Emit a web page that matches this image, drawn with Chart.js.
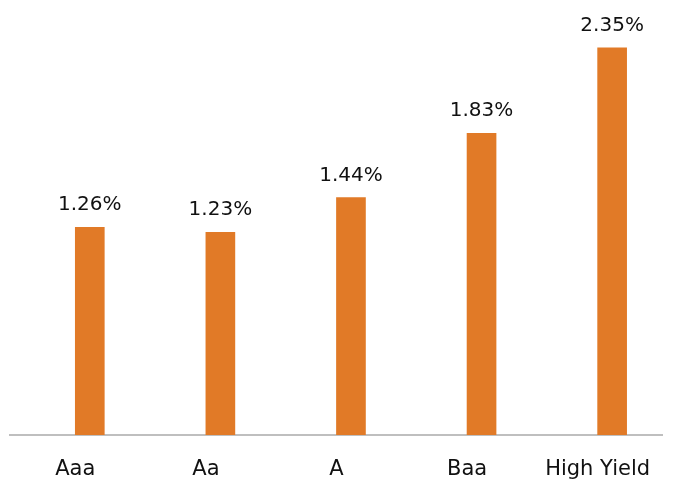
<!DOCTYPE html>
<html>
<head>
<meta charset="utf-8">
<script src="https://cdn.jsdelivr.net/npm/chart.js@4/dist/chart.umd.min.js"></script>
<style>
  html, body { margin: 0; padding: 0; background: #fff; }
  #wrap { width: 673px; height: 482px; }
</style>
</head>
<body>
<div id="wrap"><canvas id="chart"></canvas></div>
<script>
const ratings = ['Aaa', 'Aa', 'A', 'Baa', 'High Yield'];
const spreads = [1.26, 1.23, 1.44, 1.83, 2.35];

// prints the % value above each bar
const valueLabels = {
  id: 'valueLabels',
  afterDatasetsDraw(chart) {
    const ctx = chart.ctx;
    const meta = chart.getDatasetMeta(1);
    ctx.save();
    ctx.font = '20px "DejaVu Sans"';
    ctx.fillStyle = '#111';
    ctx.textAlign = 'center';
    ctx.textBaseline = 'alphabetic';
    meta.data.forEach((bar, i) => {
      ctx.fillText(spreads[i].toFixed(2) + '%', bar.x, bar.y - 17);
    });
    ctx.restore();
  }
};

new Chart(document.getElementById('chart'), {
  type: 'bar',
  data: {
    labels: ratings,
    datasets: [
      // empty slot so the bars sit a little right of the label centres
      { data: ratings.map(() => null), backgroundColor: 'rgba(0,0,0,0)' },
      { data: spreads, backgroundColor: '#E17A27' }
    ]
  },
  options: {
    responsive: true,
    maintainAspectRatio: false,
    animation: false,
    barThickness: 29,
    layout: { padding: { left: 10, right: 9, top: 23, bottom: 0 } },
    plugins: { legend: { display: false }, tooltip: { enabled: false } },
    scales: {
      x: {
        grid: { display: false, drawTicks: false },
        border: { display: true, color: '#bfbfbf', width: 2 },
        ticks: {
          padding: 22,
          color: '#111',
          font: { family: 'DejaVu Sans', size: 21 },
          maxRotation: 0
        },
        afterFit(scale) { scale.height = 47; }
      },
      y: {
        display: false,
        min: 0,
        max: 2.5
      }
    }
  },
  plugins: [valueLabels]
});
</script>
</body>
</html>
